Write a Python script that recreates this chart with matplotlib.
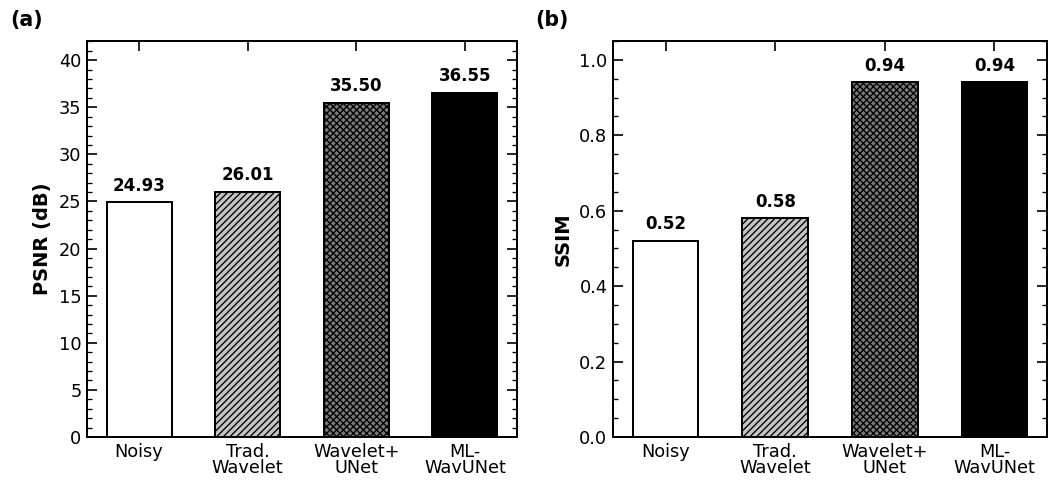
import numpy as np
import matplotlib.pyplot as plt
from matplotlib.ticker import MultipleLocator

# methods and scores
methods = ["Noisy", "Trad.\nWavelet", "Wavelet+\nUNet", "ML-\nWavUNet"]
psnr = [24.93, 26.01, 35.50, 36.55]
ssim = [0.52, 0.58, 0.94, 0.94]

face_colors = ["white", "#c4c4c4", "#7a7a7a", "black"]
hatches = ["", "////", "xxxx", ""]

DPI = 80
W, H = 1049, 482

plt.rcParams['font.family'] = ['DejaVu Sans']
plt.rcParams['hatch.linewidth'] = 1.2

fig = plt.figure(figsize=(W / DPI, H / DPI), dpi=DPI)
ax1 = fig.add_axes([87 / W, 1 - 437 / H, 430 / W, 396 / H])
ax2 = fig.add_axes([613 / W, 1 - 437 / H, 434 / W, 396 / H])


def draw_panel(ax, values, ylabel, ymax, major, minor, offset):
    x = np.arange(len(methods))
    ax.set_axisbelow(True)
    bars = ax.bar(x, values, width=0.6, color=face_colors,
                  edgecolor="black", linewidth=1.8)
    for bar, h in zip(bars, hatches):
        bar.set_hatch(h)
    for xi, v in zip(x, values):
        ax.text(xi, v + offset, f"{v:.2f}", ha="center", va="bottom",
                fontsize=15, fontweight="bold")
    ax.set_xticks(x)
    ax.set_xticklabels(methods, fontsize=16, linespacing=0.9)
    ax.set_ylim(0, ymax)
    ax.yaxis.set_major_locator(MultipleLocator(major))
    ax.yaxis.set_minor_locator(MultipleLocator(minor))
    ax.set_ylabel(ylabel, fontsize=17.5, fontweight="bold", labelpad=6)
    ax.tick_params(axis="both", which="major", direction="in", length=9,
                   width=1.5, top=True, right=True, labelsize=16, pad=5)
    ax.tick_params(axis="y", which="minor", direction="in", length=4.5,
                   width=1.2, right=True)
    ax.tick_params(axis="x", which="minor", bottom=False, top=False)
    for s in ax.spines.values():
        s.set_linewidth(1.8)
        s.set_zorder(3)


draw_panel(ax1, psnr, "PSNR (dB)", 36.55 * 1.15, 5, 1, 0.8)
draw_panel(ax2, ssim, "SSIM", 1.05, 0.2, 0.05, 0.02)

fig.text(10 / W, 1 - 20 / H, "(a)", fontsize=18.5, fontweight="bold",
         va="center", ha="left")
fig.text(535 / W, 1 - 20 / H, "(b)", fontsize=18.5, fontweight="bold",
         va="center", ha="left")

fig.savefig("out.png", dpi=DPI)
